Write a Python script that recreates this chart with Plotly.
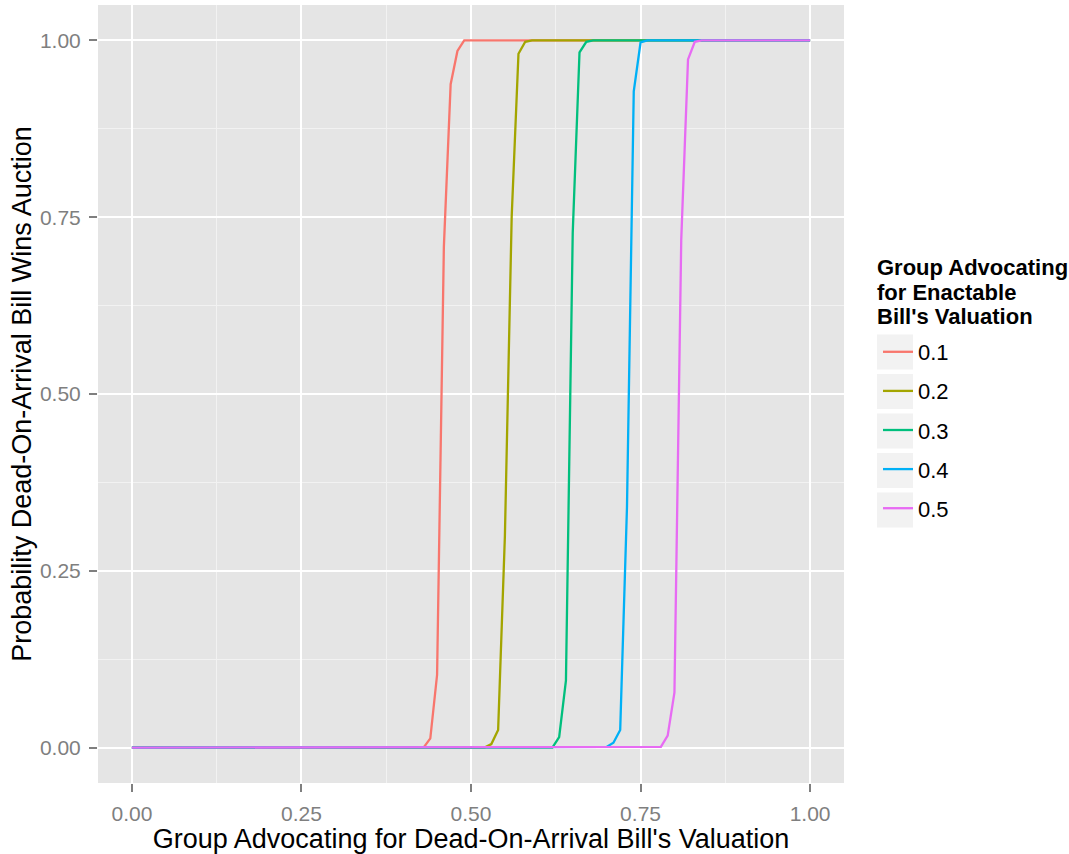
import plotly.graph_objects as go

# Valuation grid for the dead-on-arrival group (steps of 0.01)
valuation = [round(i * 0.01, 2) for i in range(101)]

# Enactable-bill valuations (one curve each)
enactable_levels = ["0.1", "0.2", "0.3", "0.4", "0.5"]
colors = ["#F8766D", "#A3A500", "#00BF7D", "#00B0F6", "#E76BF3"]

# Where each curve starts to rise, and its values through the rise
# (flat at 0 before, flat at 1 after)
rise_start = [0.43, 0.52, 0.62, 0.69, 0.77]
rise_01 = [0.0, 0.013, 0.103, 0.708, 0.938, 0.985, 1.0]
rise_02 = [0.0, 0.005, 0.025, 0.30, 0.751, 0.981, 0.998, 1.0]
rise_03 = [0.0, 0.015, 0.095, 0.728, 0.983, 0.998, 1.0]
rise_04 = [0.0, 0.001, 0.007, 0.025, 0.34, 0.928, 0.997, 1.0]
rise_05 = [0.0, 0.001, 0.017, 0.078, 0.718, 0.973, 0.998, 1.0]
rises = [rise_01, rise_02, rise_03, rise_04, rise_05]

x_ticks = [0, 0.25, 0.5, 0.75, 1.0]
y_ticks = [0, 0.25, 0.5, 0.75, 1.0]

legend_title_lines = ["Group Advocating", "for Enactable", "Bill's Valuation"]


def full_curve(start, values):
    out = []
    for v in valuation:
        k = int(round((v - start) * 100))
        if k < 0:
            out.append(0.0)
        elif k >= len(values):
            out.append(1.0)
        else:
            out.append(values[k])
    return out


fig = go.Figure()
for name, col, start, vals in zip(enactable_levels, colors, rise_start, rises):
    fig.add_trace(go.Scatter(
        x=valuation, y=full_curve(start, vals), mode="lines", name=name,
        legendgroup=name, line=dict(color=col, width=2.3),
    ))

W, H = 1069, 854
L, R, T, B = 98, 225, 5, 71
pw, ph = W - L - R, H - T - B


def px_x(p):
    return (p - L) / pw


def px_y(p):
    return (H - B - p) / ph


# light key backgrounds behind the legend entries
shapes = []
for cy in [352, 391.5, 431, 470.5, 510]:
    shapes.append(dict(
        type="rect", xref="paper", yref="paper",
        x0=px_x(877), x1=px_x(913), y0=px_y(cy + 17.5), y1=px_y(cy - 17.5),
        fillcolor="#F2F2F2", line=dict(width=0), layer="below",
    ))

# legend heading, one line per annotation for tight line spacing
annotations = []
for i, line in enumerate(legend_title_lines):
    annotations.append(dict(
        text="<b>%s</b>" % line, showarrow=False,
        xref="paper", yref="paper", x=px_x(875), y=px_y(268 + 24 * i),
        xanchor="left", yanchor="middle",
        font=dict(size=22, color="black"),
    ))

axis_common = dict(
    showgrid=True, gridcolor="white", gridwidth=2,
    minor=dict(dtick=0.125, tick0=0, showgrid=True, gridcolor="#F2F2F2", gridwidth=1),
    zeroline=False, showline=False,
    ticks="outside", ticklen=8, tickwidth=2, tickcolor="#7F7F7F",
    tickformat=".2f", ticklabelstandoff=4,
    tickfont=dict(size=21, color="#7F7F7F"),
)

fig.update_layout(
    width=W, height=H,
    margin=dict(l=L, r=R, t=T, b=B),
    paper_bgcolor="white", plot_bgcolor="#E5E5E5",
    font=dict(family="Liberation Sans, Arial, sans-serif", color="black"),
    xaxis=dict(range=[-0.05, 1.05], tickvals=x_ticks,
               title=dict(text="Group Advocating for Dead-On-Arrival Bill's Valuation",
                          font=dict(size=27, color="black"), standoff=0),
               **axis_common),
    yaxis=dict(range=[-0.05, 1.05], tickvals=y_ticks,
               title=dict(text="Probability Dead-On-Arrival Bill Wins Auction",
                          font=dict(size=27, color="black"), standoff=0),
               **axis_common),
    legend=dict(
        font=dict(size=22, color="black"),
        xref="container", yref="container",
        x=878 / W, xanchor="left", y=1 - 331 / H, yanchor="top",
        tracegroupgap=7.5, bgcolor="rgba(0,0,0,0)",
    ),
    shapes=shapes,
    annotations=annotations,
)

fig.write_html("out.html")
